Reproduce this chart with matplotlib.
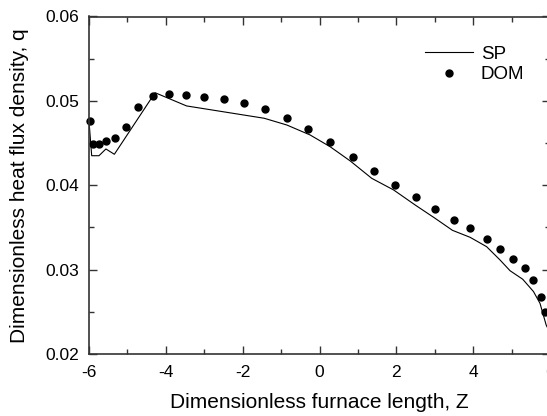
import numpy as np
import matplotlib.pyplot as plt
from matplotlib.ticker import MultipleLocator

plt.rcParams['font.family'] = ['Liberation Sans', 'DejaVu Sans']
plt.rcParams['axes.unicode_minus'] = False

# DOM points
z_dom = [-5.97, -5.89, -5.75, -5.56, -5.32, -5.04, -4.72, -4.33, -3.93, -3.48,
         -3.00, -2.49, -1.96, -1.41, -0.85, -0.30, 0.28, 0.86, 1.42, 1.97,
         2.50, 3.00, 3.49, 3.93, 4.35, 4.71, 5.04, 5.34, 5.57, 5.76, 5.875]
q_dom = [0.04765, 0.04489, 0.0449, 0.0453, 0.04557, 0.04694, 0.04924, 0.05058,
         0.05082, 0.0507, 0.0505, 0.0502, 0.04971, 0.049, 0.04797, 0.04663,
         0.04509, 0.0434, 0.04169, 0.04007, 0.03857, 0.03715, 0.03592, 0.0349,
         0.03367, 0.03245, 0.03126, 0.03016, 0.02874, 0.02673, 0.02495]

# SP line
z_sp = [-6.0, -5.93, -5.74, -5.56, -5.34, -4.28, -3.46, -1.44, -0.85, -0.245,
        0.276, 0.80, 1.36, 1.93, 2.49, 3.01, 3.46, 3.92, 4.35, 4.70, 4.96,
        5.29, 5.57, 5.74, 5.90, 6.0]
q_sp = [0.0476, 0.0435, 0.0435, 0.0443, 0.04367, 0.05097, 0.0494, 0.04794,
        0.04714, 0.04596, 0.04457, 0.04288, 0.04082, 0.03944, 0.03766, 0.03608,
        0.03466, 0.03383, 0.03272, 0.03114, 0.02987, 0.02886, 0.0274, 0.026,
        0.02344, 0.0225]

fig = plt.figure(figsize=(5.47, 4.16), dpi=100)
ax = fig.add_axes([89/547, 62/416, 461/547, 337.5/416])

ax.plot(z_sp, q_sp, color='black', lw=0.8, label='SP')
ax.plot(z_dom, q_dom, 'o', color='black', ms=5, label='DOM', clip_on=False)

ax.set_xlim(-6, 6)
ax.set_ylim(0.02, 0.06)
ax.set_xticks([-6, -4, -2, 0, 2, 4, 6])
ax.set_yticks([0.02, 0.03, 0.04, 0.05, 0.06])
ax.set_yticklabels(['0.02', '0.03', '0.04', '0.05', '0.06'])
ax.xaxis.set_minor_locator(MultipleLocator(1))
ax.yaxis.set_minor_locator(MultipleLocator(0.005))
ax.tick_params(which='both', direction='in', top=True, right=True,
               labelsize=12.5, color='#333333')
ax.tick_params(which='major', length=6, width=1)
ax.tick_params(which='minor', length=3.5, width=1)
ax.tick_params(axis='x', which='major', pad=8)
ax.tick_params(axis='y', which='major', pad=7)
for s in ax.spines.values():
    s.set_color('#333333')
    s.set_linewidth(1.2)

ax.set_xlabel('Dimensionless furnace length, Z', fontsize=15, labelpad=9)
ax.set_ylabel('Dimensionless heat flux density, q', fontsize=15, labelpad=12)

ax.legend(loc='upper right', bbox_to_anchor=(0.965, 0.942), frameon=False,
          fontsize=13.5, handlelength=2.6, handletextpad=0.4, labelspacing=0.2,
          borderpad=0)

fig.savefig('out.png', dpi=100)
